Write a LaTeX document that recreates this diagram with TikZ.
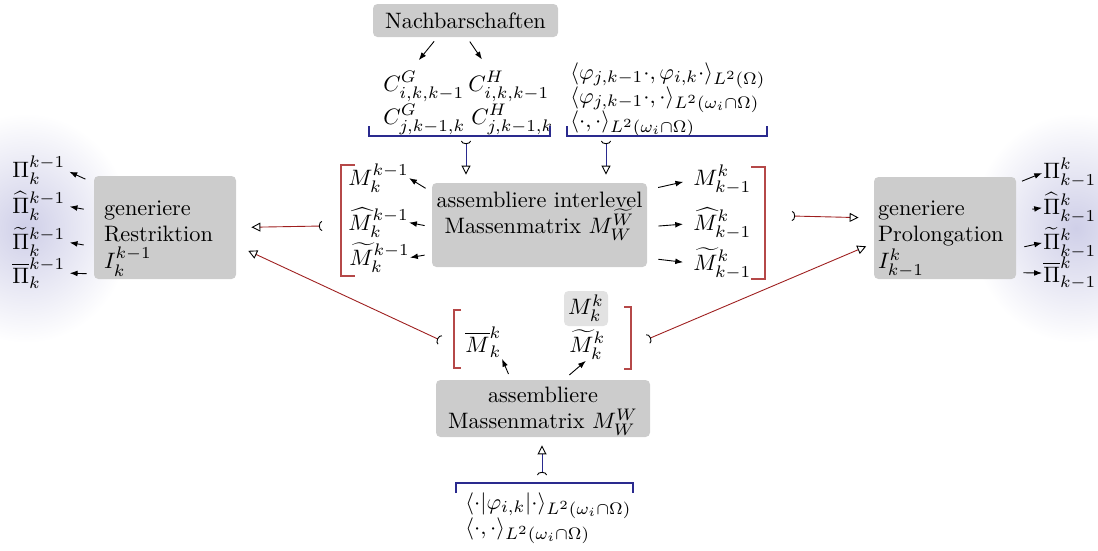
\RequirePackage{fix-cm}
\documentclass[tikz,border=0pt]{standalone}
\usepackage{amsmath,amsfonts,amssymb}
\usepackage{tikz}
\usepackage{xcolor}
\usetikzlibrary{arrows.meta}
\DeclareMathSizes{10}{10}{7.5}{5.6}
\definecolor{boxgray}{HTML}{CCCCCC}
\definecolor{lightbox}{HTML}{E2E2E2}
\definecolor{linkred}{HTML}{9E1F1F}
\definecolor{brackred}{HTML}{B54848}
\definecolor{linkblue}{HTML}{2A2A8E}
\definecolor{glow}{HTML}{CFCFE8}
\newlength{\px}
\setlength{\px}{0.01576cm}
\tikzset{
  box/.style={fill=boxgray, rounded corners=2pt, inner xsep=0pt, inner ysep=0pt},
  lbl/.style={inner sep=0pt, anchor=base west},
  arr/.style={-{Latex[length=3.5pt,width=2.6pt]}},
  connR/.style={draw=linkred, {Arc Barb[reversed,color=black,length=1.4pt,width=4.5pt]}-{Triangle[open,color=black,length=4pt,width=4pt]}},
  connB/.style={connR, draw=linkblue},
  brackR/.style={draw=brackred, line width=0.6pt},
  brackB/.style={draw=linkblue, line width=0.6pt},
}

\begin{document}
\begin{tikzpicture}[x=\px, y=-\px]
    \useasboundingbox (0,0) rectangle (1098,550);
    % glow behind the projections
    \shade[inner color=glow, outer color=white] (26,228) ellipse [x radius=105, y radius=115];
    \shade[inner color=glow, outer color=white] (1076,228) ellipse [x radius=105, y radius=115];

    % boxes
    \node[box, text width=185\px, align=center, text height=24\px, text depth=9\px] (nb) at (465.5,20.5) {Nachbarschaften};
    \node[box, text width=215\px, align=center, text height=24\px, text depth=60\px] (ci) at (539.5,225)
      {assembliere interlevel\\ Massenmatrix $M_W^{\widetilde{W}}$};
    \node[box, text width=214\px, align=center, text height=22\px, text depth=35\px] (bb) at (543,408.5)
      {assembliere\\ Massenmatrix $M_W^W$};
    \node[box, inner xsep=10\px, text width=122\px, align=left, text height=39\px, text depth=64\px] (lb) at (165,227.5)
      {generiere\\ Restriktion\\ $I_k^{k-1}$};
    \node[box, inner xsep=4\px, text width=134\px, align=left, text height=38\px, text depth=64\px] (rb) at (945,228)
      {generiere\\ Prolongation\\ $I_{k-1}^k$};

    % neighbourhoods
    \node[lbl] (cg1) at (383,91) {$C^G_{i,k,k-1}$};
    \node[lbl] (ch1) at (468,91) {$C^H_{i,k,k-1}$};
    \node[lbl] (cg2) at (383,124) {$C^G_{j,k-1,k}$};
    \node[lbl] (ch2) at (471,124) {$C^H_{j,k-1,k}$};
    \draw[arr, shorten <=5\px, shorten >=14\px] (nb.211) -- (cg1.132);
    \draw[arr, shorten <=5\px, shorten >=14\px] (nb.275) -- (ch1.141);

    % scalar products
    \node[lbl] (ip1) at (570,79) {$\langle\varphi_{j,k-1}\cdot,\varphi_{i,k}\cdot\rangle_{L^2(\Omega)}$};
    \node[lbl] (ip2) at (570,103) {$\langle\varphi_{j,k-1}\cdot,\cdot\rangle_{L^2(\omega_i\cap\Omega)}$};
    \node[lbl] (ip3) at (570,127) {$\langle\cdot,\cdot\rangle_{L^2(\omega_i\cap\Omega)}$};
    \node[lbl] (bp1) at (465,509) {$\langle\cdot|\varphi_{i,k}|\cdot\rangle_{L^2(\omega_i\cap\Omega)}$};
    \node[lbl] (bp2) at (465,534) {$\langle\cdot,\cdot\rangle_{L^2(\omega_i\cap\Omega)}$};

    % interlevel matrices
    \node[lbl] (ml1) at (348,185) {$M_k^{k-1}$};
    \node[lbl] (ml2) at (348,230) {$\widehat{M}_k^{k-1}$};
    \node[lbl] (ml3) at (349,265) {$\widetilde{M}_k^{k-1}$};
    \node[lbl] (mr1) at (693,185) {$M_{k-1}^k$};
    \node[lbl] (mr2) at (693,230) {$\widehat{M}_{k-1}^k$};
    \node[lbl] (mr3) at (693,270) {$\widetilde{M}_{k-1}^k$};
    \draw[arr, shorten <=7\px] (ci.163) -- (ml1.east);
    \draw[arr, shorten <=7\px] (ci.181) -- (ml2.east);
    \draw[arr, shorten <=7\px] (ci.195) -- (ml3.east);
    \draw[arr, shorten <=11\px, shorten >=10\px] (ci.18) -- (mr1.west);
    \draw[arr, shorten <=11\px, shorten >=10\px] (ci.359) -- (mr2.west);
    \draw[arr, shorten <=11\px, shorten >=10\px] (ci.343) -- (mr3.west);

    % level matrices
    \node[fill=lightbox, rounded corners=2pt, inner sep=0pt, minimum width=44\px, minimum height=35\px] (mk) at (586,308.5) {$M_k^k$};
    \node[lbl] (mo) at (465,352) {$\overline{M}_k^k$};
    \node[lbl] (mt) at (569,352) {$\widetilde{M}_k^k$};
    \draw[arr, shorten <=6\px, shorten >=1\px] (bb.138) -- (mo.south east);
    \draw[arr, shorten <=7\px, shorten >=2\px] (bb.54) -- (mt.south);

    % projections
    \node[lbl] (pl1) at (12,177) {$\Pi_k^{k-1}$};
    \node[lbl] (pl2) at (12,213) {$\widehat{\Pi}_k^{k-1}$};
    \node[lbl] (pl3) at (12,249) {$\widetilde{\Pi}_k^{k-1}$};
    \node[lbl] (pl4) at (12,283) {$\overline{\Pi}_k^{k-1}$};
    \node[lbl] (pr1) at (1043,178) {$\Pi_{k-1}^k$};
    \node[lbl] (pr2) at (1043,214) {$\widehat{\Pi}_{k-1}^k$};
    \node[lbl] (pr3) at (1043,249) {$\widetilde{\Pi}_{k-1}^k$};
    \node[lbl] (pr4) at (1043,282) {$\overline{\Pi}_{k-1}^k$};
    \draw[arr, shorten <=9\px, shorten >=4\px] (lb.148) -- (pl1.east);
    \draw[arr, shorten <=10\px, shorten >=4\px] (lb.167) -- (pl2.east);
    \draw[arr, shorten <=10\px, shorten >=4\px] (lb.195) -- (pl3.east);
    \draw[arr, shorten <=7\px, shorten >=4\px] (lb.213) -- (pl4.east);
    \draw[arr, shorten <=6\px, shorten >=1\px] (rb.32) -- (pr1.west);
    \draw[arr, shorten <=16\px, shorten >=1\px] (rb.13) -- (pr2.west);
    \draw[arr, shorten <=8\px, shorten >=1\px] (rb.344) -- (pr3.west);
    \draw[arr, shorten <=7\px, shorten >=1\px] (rb.328) -- (pr4.west);

    % brackets
    \draw[brackR] (355,165) -| (341,276) -- (355,276);
    \draw[brackR] (751,167) -| (765,279) -- (751,279);
    \draw[brackR] (461,310) -| (454,368) -- (461,368);
    \draw[brackR] (624,307) -| (631,369) -- (624,369);
    \draw[brackB] (369,126) |- (550,136) -- (550,126);
    \draw[brackB] (567,126) |- (767,136) -- (767,126);
    \draw[brackB] (456,493) |- (633,483) -- (633,493);

    % connectors
    \coordinate (tlC) at (466,141);
    \coordinate (trC) at (606,141);
    \coordinate (bC) at (542,475);
    \coordinate (lhC) at (322,226);
    \coordinate (ldC) at (440,340);
    \coordinate (rhC) at (792,216);
    \coordinate (rdC) at (648,339);
    \draw[connB, shorten >=8\px] (tlC) -- (tlC |- ci.north);
    \draw[connB, shorten >=8\px] (trC) -- (trC |- ci.north);
    \draw[connB, shorten >=8\px] (bC) -- (bC |- bb.south);
    \draw[connR, shorten >=15\px] (lhC) -- (lb.east);
    \draw[connR, shorten >=13\px] (ldC) -- (lb.346);
    \draw[connR, shorten >=15\px] (rhC) -- (rb.172);
    \draw[connR, shorten >=8\px] (rdC) -- (rb.192);
  \end{tikzpicture}
\end{document}
